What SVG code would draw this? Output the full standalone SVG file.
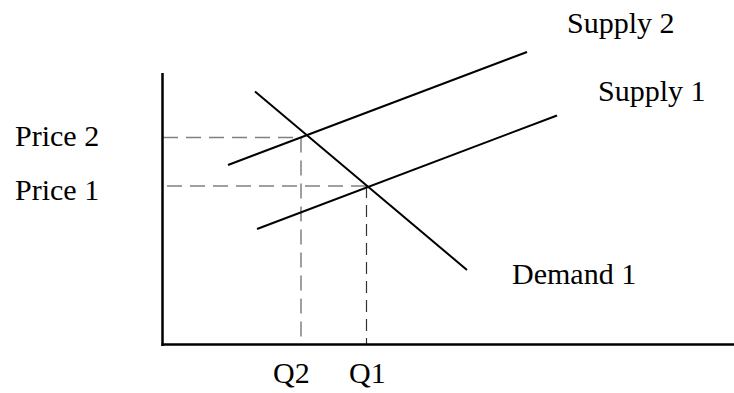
<svg xmlns="http://www.w3.org/2000/svg" width="734" height="393" viewBox="0 0 734 393">
<style>
.lbl{font-family:"Liberation Serif","Times New Roman",serif;font-size:30px;fill:#000}
.axis{stroke:#000;stroke-width:2.5;fill:none}
.curve{stroke:#000;stroke-width:2;fill:none}
.guide{stroke:#808080;stroke-width:1.5;stroke-dasharray:15 8;fill:none}
.guide2{stroke:#333;stroke-width:1.2;stroke-dasharray:12 7;fill:none}
</style>
<rect width="734" height="393" fill="#fff"/>
<g id="connectors">
<line class="guide" x1="163" y1="137.5" x2="303" y2="137.5"/>
<line class="guide" x1="301" y1="137.5" x2="301" y2="344"/>
<line class="guide" x1="167" y1="186" x2="368" y2="186"/>
<line class="guide2" x1="366.5" y1="186" x2="366.5" y2="344"/>
</g>
<g id="axes">
<line class="axis" x1="162.5" y1="73" x2="162.5" y2="346"/>
<line class="axis" x1="161.5" y1="344.5" x2="734" y2="344.5"/>
</g>
<g id="demand1">
<line class="curve" x1="255" y1="91.5" x2="467" y2="270"/>
<text class="lbl" x="512" y="284">Demand 1</text>
</g>
<g id="supply2">
<line class="curve" x1="228" y1="165" x2="527" y2="52"/>
<text class="lbl" x="567" y="33">Supply 2</text>
</g>
<g id="supply1">
<line class="curve" x1="257" y1="229" x2="557" y2="115.5"/>
<text class="lbl" x="598" y="101">Supply 1</text>
</g>
<g id="price2"><text class="lbl" x="15" y="146">Price 2</text></g>
<g id="price1"><text class="lbl" x="15" y="200">Price 1</text></g>
<g id="q2"><text class="lbl" x="273" y="383">Q2</text></g>
<g id="q1"><text class="lbl" x="349" y="383">Q1</text></g>
</svg>
